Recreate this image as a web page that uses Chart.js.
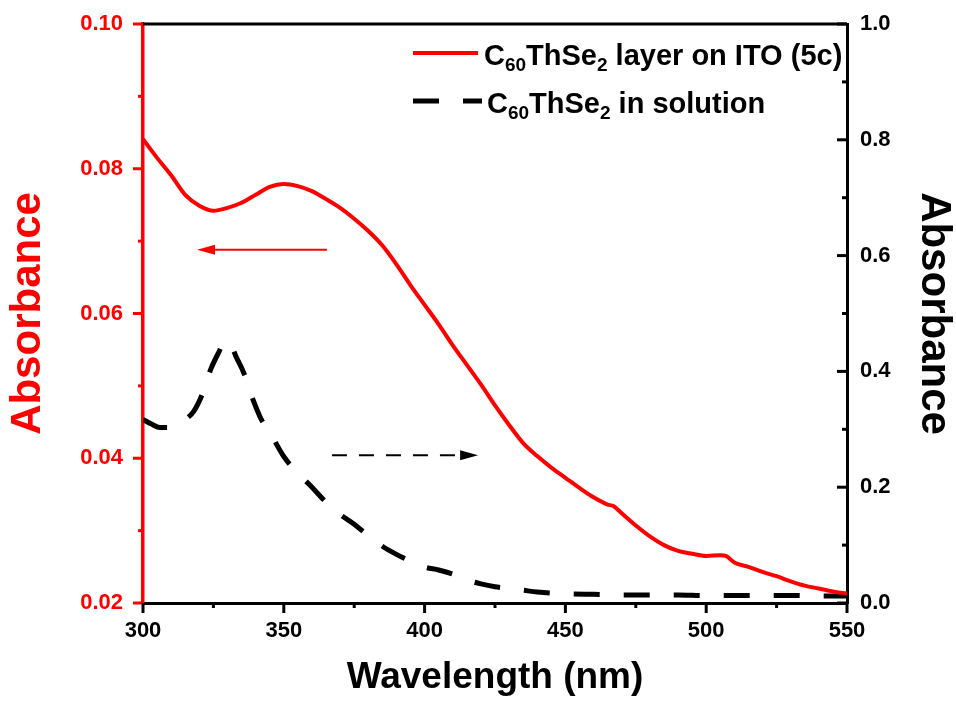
<!DOCTYPE html>
<html>
<head>
<meta charset="utf-8">
<script src="https://cdn.jsdelivr.net/npm/chart.js@4.4.1/dist/chart.umd.min.js"></script>
<style>
  html, body { margin: 0; padding: 0; background: #fff; }
</style>
</head>
<body>
<canvas id="chart" width="956" height="708"></canvas>
<script>
// film on ITO (left axis)
const filmWl = [300, 305, 310, 315, 320, 325, 330, 335, 340, 345, 350, 355, 360, 365, 370, 375, 380, 385, 390, 395,
                400, 405, 410, 415, 420, 425, 430, 435, 440, 445, 450, 455, 460, 465, 467, 470, 475, 480, 485, 490,
                495, 500, 505, 507, 510, 515, 520, 525, 530, 535, 540, 545, 550];
const filmAbs = [0.0841, 0.0815, 0.0791, 0.0764, 0.0749, 0.0742, 0.0746, 0.0753, 0.0764, 0.0775, 0.0779, 0.0776, 0.0769, 0.0758, 0.0746, 0.0731, 0.0714, 0.0694, 0.0668, 0.0639,
                 0.0612, 0.0585, 0.0556, 0.0529, 0.0502, 0.0473, 0.0446, 0.0421, 0.0403, 0.0387, 0.0373, 0.0359, 0.0346, 0.0336, 0.0334, 0.0324, 0.0307, 0.0292, 0.0280, 0.0272,
                 0.0268, 0.0265, 0.0266, 0.0265, 0.0256, 0.0250, 0.0243, 0.0237, 0.0230, 0.0224, 0.0220, 0.0216, 0.0213];

// solution (right axis)
const solWl = [300, 303, 306, 309, 312, 315, 318, 321, 324, 327, 329, 331, 333, 336, 339, 342, 345, 350, 355, 360,
               365, 370, 375, 380, 385, 390, 395, 400, 405, 410, 415, 420, 425, 430, 435, 440, 445, 450, 460, 470,
               480, 490, 500, 510, 520, 530, 540, 550];
const solAbs = [0.317, 0.309, 0.303, 0.303, 0.309, 0.317, 0.331, 0.360, 0.403, 0.434, 0.452, 0.448, 0.426, 0.395, 0.352, 0.317, 0.295, 0.253, 0.224, 0.200,
                0.174, 0.153, 0.136, 0.116, 0.098, 0.084, 0.072, 0.062, 0.057, 0.050, 0.040, 0.033, 0.028, 0.025, 0.022, 0.019, 0.017, 0.016, 0.015, 0.014,
                0.014, 0.014, 0.013, 0.013, 0.013, 0.013, 0.012, 0.012];

const seriesLabels = ['C_{60}ThSe_{2} layer on ITO (5c)', 'C_{60}ThSe_{2} in solution'];

const xTicks = [300, 350, 400, 450, 500, 550];
const leftTicks = [0.02, 0.04, 0.06, 0.08, 0.10];
const rightTicks = [0.0, 0.2, 0.4, 0.6, 0.8, 1.0];

// arrows pointing at the axis each curve belongs to (data units)
const arrows = [
  { axis: 'y',  from: [365.3, 0.0688], to: [319.2, 0.0688], color: '#ff0000', dash: [] },
  { axis: 'y2', from: [367.1, 0.255],  to: [419.0, 0.255],  color: '#000000', dash: [15, 12] }
];

const FONT = 'Arial, "Liberation Sans", sans-serif';
const RED = '#ff0000';

function drawRich(ctx, text, x, y, size, subSize, color) {
  const parts = text.split(/(_\{[^}]*\})/).filter(Boolean);
  ctx.fillStyle = color;
  ctx.textAlign = 'left';
  ctx.textBaseline = 'alphabetic';
  for (const p of parts) {
    if (p.startsWith('_{')) {
      const s = p.slice(2, -1);
      ctx.font = 'bold ' + subSize + 'px ' + FONT;
      ctx.fillText(s, x, y + 6);
      x += ctx.measureText(s).width;
    } else {
      ctx.font = 'bold ' + size + 'px ' + FONT;
      ctx.fillText(p, x, y);
      x += ctx.measureText(p).width;
    }
  }
}

function tickMarks(ctx, scale, values, dir, color) {
  const a = scale.chart.chartArea;
  ctx.strokeStyle = color;
  ctx.lineWidth = 3;
  const step = values[1] - values[0];
  const all = [];
  values.forEach((v, i) => {
    all.push([v, 10]);
    if (i < values.length - 1) all.push([v + step / 2, 5]);
  });
  for (const [v, len] of all) {
    const p = scale.getPixelForValue(v);
    ctx.beginPath();
    if (dir === 'left')  { ctx.moveTo(a.left, p);  ctx.lineTo(a.left - len, p); }
    if (dir === 'right') { ctx.moveTo(a.right, p); ctx.lineTo(a.right - len, p); }
    if (dir === 'down')  { ctx.moveTo(p, a.bottom); ctx.lineTo(p, a.bottom + len); }
    ctx.stroke();
  }
}

const decorations = {
  id: 'decorations',
  afterDraw(chart) {
    const ctx = chart.ctx;
    const a = chart.chartArea;
    const sx = chart.scales.x;
    ctx.save();

    // top frame line
    ctx.strokeStyle = '#000';
    ctx.lineWidth = 3;
    ctx.beginPath();
    ctx.moveTo(a.left, a.top);
    ctx.lineTo(a.right, a.top);
    ctx.stroke();

    tickMarks(ctx, chart.scales.y, leftTicks, 'left', RED);
    tickMarks(ctx, chart.scales.y2, rightTicks, 'right', '#000');
    tickMarks(ctx, sx, xTicks, 'down', '#000');

    // arrows
    for (const ar of arrows) {
      const sy = chart.scales[ar.axis];
      const x0 = sx.getPixelForValue(ar.from[0]), y0 = sy.getPixelForValue(ar.from[1]);
      const x1 = sx.getPixelForValue(ar.to[0]),   y1 = sy.getPixelForValue(ar.to[1]);
      const ang = Math.atan2(y1 - y0, x1 - x0);
      const hl = 18, hw = 5;
      const bx = x1 - hl * Math.cos(ang), by = y1 - hl * Math.sin(ang);
      ctx.strokeStyle = ar.color;
      ctx.fillStyle = ar.color;
      ctx.lineWidth = 2;
      ctx.setLineDash(ar.dash);
      ctx.beginPath();
      ctx.moveTo(x0, y0);
      ctx.lineTo(bx, by);
      ctx.stroke();
      ctx.setLineDash([]);
      ctx.beginPath();
      ctx.moveTo(x1, y1);
      ctx.lineTo(bx - hw * Math.sin(ang), by + hw * Math.cos(ang));
      ctx.lineTo(bx + hw * Math.sin(ang), by - hw * Math.cos(ang));
      ctx.closePath();
      ctx.fill();
    }

    // legend with subscripts
    const lx = a.left + 267;
    const rows = [a.top + 29, a.top + 77];
    chart.data.datasets.forEach((ds, i) => {
      const y = rows[i];
      ctx.strokeStyle = ds.borderColor;
      ctx.lineWidth = ds.borderWidth;
      ctx.setLineDash(ds.borderDash || []);
      ctx.beginPath();
      ctx.moveTo(lx + 3, y);
      ctx.lineTo(lx + (i === 0 ? 68 : 72), y);
      ctx.stroke();
      ctx.setLineDash([]);
      drawRich(ctx, ds.label, lx + (i === 0 ? 74 : 77), y + 12, 29, 19, '#000');
    });
    ctx.restore();
  }
};

new Chart(document.getElementById('chart'), {
  type: 'line',
  data: {
    datasets: [
      {
        label: seriesLabels[0],
        data: filmWl.map((w, i) => ({ x: w, y: filmAbs[i] })),
        yAxisID: 'y',
        borderColor: RED,
        borderWidth: 4,
        pointRadius: 0,
        cubicInterpolationMode: 'monotone'
      },
      {
        label: seriesLabels[1],
        data: solWl.map((w, i) => ({ x: w, y: solAbs[i] })),
        yAxisID: 'y2',
        borderColor: '#000000',
        borderWidth: 5,
        borderDash: [26, 24],
        pointRadius: 0,
        cubicInterpolationMode: 'monotone'
      }
    ]
  },
  options: {
    responsive: false,
    animation: false,
    devicePixelRatio: 1,
    layout: { padding: { top: 24, left: 0, right: 0, bottom: 0 } },
    plugins: { legend: { display: false }, tooltip: { enabled: false } },
    scales: {
      x: {
        type: 'linear',
        min: 300, max: 550,
        afterBuildTicks: s => { s.ticks = xTicks.map(v => ({ value: v })); },
        afterFit: s => { s.height = 105; s.paddingLeft = 0; s.paddingRight = 0; },
        grid: { display: false, drawTicks: false },
        border: { display: true, color: '#000', width: 3 },
        ticks: { color: '#000', padding: 15, font: { family: FONT, size: 22, weight: 'bold' } },
        title: {
          display: true, text: 'Wavelength (nm)', color: '#000',
          font: { family: FONT, size: 37, weight: 'bold', lineHeight: 1 },
          padding: { top: 0, bottom: 12 }
        }
      },
      y: {
        position: 'left',
        min: 0.02, max: 0.10,
        afterBuildTicks: s => { s.ticks = leftTicks.map(v => ({ value: v })); },
        afterFit: s => { s.width = 143; s.paddingTop = 0; s.paddingBottom = 0; },
        grid: { display: false, drawTicks: false },
        border: { display: true, color: RED, width: 3.5 },
        ticks: { color: RED, padding: 20, callback: v => v.toFixed(2), font: { family: FONT, size: 22, weight: 'bold' } },
        title: {
          display: true, text: 'Absorbance', color: RED,
          font: { family: FONT, size: 42, weight: 'bold', lineHeight: 1 },
          padding: { top: 7, bottom: 0 }
        }
      },
      y2: {
        position: 'right',
        min: 0, max: 1.0,
        afterBuildTicks: s => { s.ticks = rightTicks.map(v => ({ value: v })); },
        afterFit: s => { s.width = 109; s.paddingTop = 0; s.paddingBottom = 0; },
        grid: { display: false, drawTicks: false },
        border: { display: true, color: '#000', width: 3 },
        ticks: { color: '#000', padding: 13, callback: v => v.toFixed(1), font: { family: FONT, size: 22, weight: 'bold' } },
        title: {
          display: true, text: 'Absorbance', color: '#000',
          font: { family: FONT, size: 42, weight: 'bold', lineHeight: 1 },
          padding: { top: 1, bottom: 0 }
        }
      }
    }
  },
  plugins: [decorations]
});
</script>
</body>
</html>
